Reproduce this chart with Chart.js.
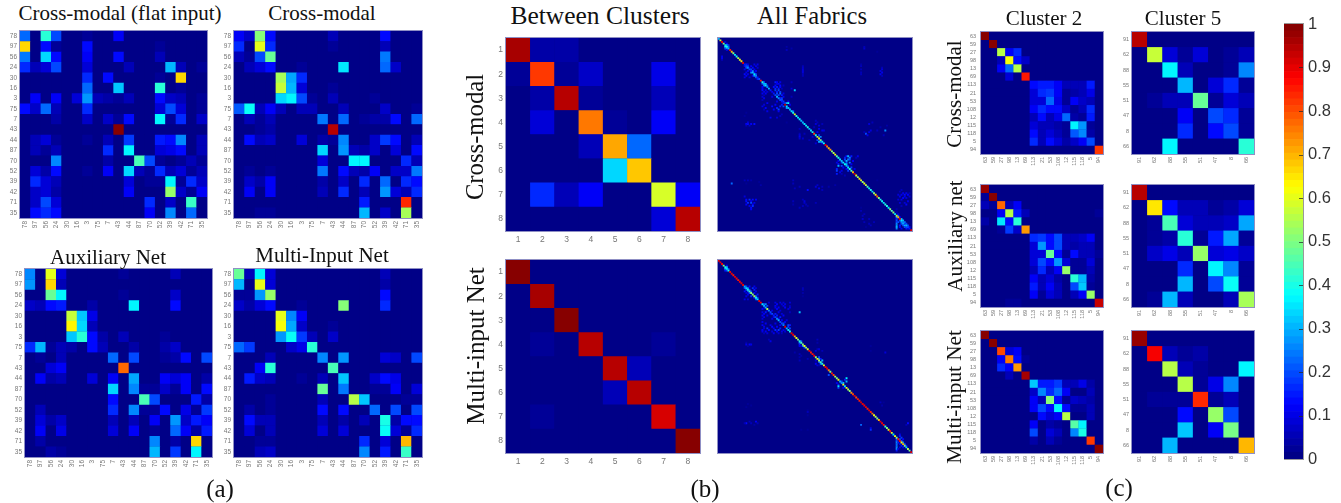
<!DOCTYPE html>
<html><head><meta charset="utf-8">
<script src="https://cdn.jsdelivr.net/npm/chart.js@4"></script>
<style>
html,body{margin:0;padding:0;background:#fff;width:1341px;height:503px;overflow:hidden}
canvas{position:absolute;filter:blur(0.45px)}
.t{position:absolute;font-family:"Liberation Serif",serif;color:#111;white-space:nowrap;line-height:1;transform:translate(-50%,-50%)}
.v{transform:translate(-50%,-50%) rotate(-90deg)}
</style></head><body>
<script>
// ---------- categories ----------
const fabricsA=['78','97','56','24','30','16','3','75','7','43','44','87','70','52','39','42','71','35'];
const clusterIds=['1','2','3','4','5','6','7','8'];
const cluster2Ids=['63','59','27','98','13','69','113','21','53','108','12','115','118','5','94'];
const cluster5Ids=['91','62','88','55','51','47','8','66'];
const allFabricIds=[];for(let i=1;i<=120;i++)allFabricIds.push(String(i));

// ---------- panel (a): rows as [column,value] pairs, all others 0 ----------
const flatInput=[
[[0,.22],[2,.42],[3,.2],[6,.03],[9,.12]],
[[0,.67],[2,.13],[3,.03],[6,.13],[13,.03]],
[[0,.24],[2,.33],[3,.14],[6,.11],[9,.14],[13,.05]],
[[0,.17],[1,.06],[2,.08],[3,.2],[6,.09],[10,.05],[14,.3],[15,.06],[17,.03]],
[[6,.16],[8,.14],[13,.02],[15,.66]],
[[6,.23],[9,.32],[13,.42],[15,.03]],
[[1,.12],[3,.12],[5,.09],[6,.27],[7,.05],[8,.04],[9,.02],[10,.06],[13,.13],[14,.07],[15,.05],[17,.03]],
[[0,.13],[1,.07],[2,.23],[3,.05],[6,.16],[13,.09],[14,.2],[15,.08],[17,.02]],
[[3,.04],[6,.07],[8,.07],[9,.03],[10,.13],[13,.36],[14,.03],[15,.17],[17,.07]],
[[9,.99]],
[[1,.05],[2,.08],[3,.03],[6,.03],[8,.05],[10,.18],[13,.15],[14,.13],[15,.25],[17,.06]],
[[1,.05],[2,.03],[3,.05],[8,.16],[10,.36],[13,.09],[14,.1],[15,.13],[17,.05]],
[[3,.25],[8,.04],[11,.45],[12,.2],[13,.03],[15,.03],[16,.05],[17,.03]],
[[1,.08],[2,.04],[3,.13],[6,.03],[8,.12],[10,.33],[11,.05],[12,.03],[13,.16],[14,.05],[15,.08],[16,.03],[17,.06]],
[[1,.17],[2,.09],[3,.05],[10,.09],[12,.02],[13,.02],[14,.36],[15,.03],[16,.17],[17,.07]],
[[1,.07],[2,.08],[3,.04],[10,.11],[14,.53],[15,.07],[16,.02],[17,.12]],
[[1,.07],[2,.2],[3,.08],[12,.17],[14,.07],[16,.43]],
[[1,.13],[2,.16],[3,.14],[12,.12],[14,.25],[16,.23]]];
const crossModalA=[
[[0,.12],[1,.07],[2,.5],[3,.13],[9,.05],[14,.13]],
[[0,.17],[2,.6],[3,.17],[9,.03],[14,.05]],
[[0,.05],[1,.03],[2,.2],[3,.48],[14,.24]],
[[1,.06],[2,.09],[3,.13],[6,.03],[10,.35],[14,.22],[15,.07]],
[[4,.54],[5,.29],[6,.17]],
[[4,.57],[5,.31],[6,.09],[9,.03]],
[[4,.33],[5,.37],[6,.2],[7,.03],[9,.05],[13,.03]],
[[0,.21],[1,.39],[2,.05],[3,.12],[4,.05],[6,.06],[7,.05],[10,.05],[14,.07],[17,.03]],
[[1,.05],[2,.02],[3,.06],[8,.24],[10,.22],[12,.03],[13,.04],[14,.04],[15,.13],[17,.23]],
[[2,.03],[3,.04],[9,.95]],
[[1,.13],[2,.05],[3,.07],[6,.09],[8,.04],[9,.02],[10,.25],[13,.07],[14,.18],[15,.13],[17,.05]],
[[8,.34],[10,.28],[11,.05],[12,.04],[13,.07],[15,.08],[17,.14]],
[[8,.08],[11,.36],[12,.36],[16,.17],[17,.06]],
[[1,.03],[3,.03],[8,.24],[10,.14],[11,.06],[12,.04],[13,.12],[15,.07],[16,.07],[17,.24]],
[[1,.07],[2,.04],[3,.11],[8,.04],[10,.07],[12,.17],[14,.22],[16,.17],[17,.13]],
[[1,.12],[3,.11],[8,.06],[10,.16],[12,.05],[14,.28],[15,.08],[16,.05],[17,.17]],
[[12,.15],[16,.84]],
[[2,.03],[3,.03],[12,.3],[14,.07],[16,.54]]];
const auxiliaryA=[
[[0,.25],[2,.6],[3,.09],[9,.03],[14,.06]],
[[0,.27],[2,.67],[3,.06]],
[[2,.48],[3,.37],[9,.03],[14,.07]],
[[0,.07],[1,.05],[2,.14],[3,.15],[6,.04],[10,.37],[14,.14]],
[[4,.57],[5,.32],[6,.1]],
[[4,.64],[5,.33],[6,.05]],
[[4,.32],[5,.42],[6,.13],[7,.04],[9,.05],[13,.02]],
[[0,.16],[1,.3],[2,.02],[3,.05],[4,.04],[6,.13],[7,.06],[10,.04],[13,.04],[14,.07]],
[[1,.03],[3,.05],[8,.22],[10,.2],[13,.03],[14,.04],[15,.14],[17,.2]],
[[2,.08],[3,.12],[9,.78]],
[[1,.12],[2,.04],[3,.06],[6,.08],[8,.11],[10,.29],[13,.11],[14,.08],[15,.12],[17,.04]],
[[8,.33],[10,.26],[11,.03],[12,.03],[13,.07],[14,.03],[15,.11],[17,.13]],
[[8,.14],[11,.44],[12,.2],[16,.15],[17,.04]],
[[1,.05],[8,.16],[10,.25],[11,.03],[12,.03],[13,.14],[15,.1],[16,.03],[17,.18]],
[[1,.08],[2,.04],[3,.07],[8,.06],[10,.05],[12,.11],[14,.27],[15,.07],[16,.15],[17,.12]],
[[1,.12],[3,.1],[8,.08],[10,.12],[12,.03],[14,.23],[15,.12],[16,.04],[17,.15]],
[[1,.04],[12,.26],[14,.04],[16,.66]],
[[2,.04],[3,.03],[12,.31],[14,.18],[16,.37]]];
const multiInputA=[
[[0,.48],[1,.05],[2,.36],[3,.08],[14,.06]],
[[0,.3],[2,.6],[3,.08],[14,.04]],
[[0,.03],[1,.02],[2,.27],[3,.53],[14,.13]],
[[0,.07],[1,.04],[2,.09],[3,.13],[6,.03],[10,.51],[14,.17]],
[[4,.6],[5,.25],[6,.12]],
[[4,.62],[5,.29],[6,.07],[9,.03]],
[[4,.28],[5,.38],[6,.18],[7,.06],[9,.07]],
[[0,.22],[1,.18],[5,.07],[6,.1],[7,.41]],
[[3,.05],[8,.26],[10,.28],[14,.08],[15,.07],[17,.19]],
[[2,.12],[3,.42],[9,.44]],
[[1,.15],[2,.07],[3,.05],[6,.03],[8,.06],[10,.32],[13,.07],[14,.13],[15,.1]],
[[8,.47],[10,.24],[13,.03],[14,.03],[15,.12],[17,.09]],
[[3,.02],[8,.06],[11,.55],[12,.32],[16,.03],[17,.03]],
[[1,.04],[3,.03],[8,.13],[10,.13],[13,.22],[15,.19],[17,.2]],
[[1,.13],[2,.05],[3,.06],[8,.05],[10,.04],[12,.06],[14,.4],[15,.04],[16,.14],[17,.13]],
[[1,.09],[3,.06],[8,.09],[10,.08],[14,.38],[15,.09],[16,.03],[17,.17]],
[[2,.03],[3,.03],[12,.16],[14,.08],[16,.7]],
[[2,.05],[3,.07],[12,.26],[14,.15],[16,.43]]];

// ---------- panel (b) between clusters ----------
const betweenCrossModal=[
[.96,.04,.04,.01,0,0,.01,0],
[.03,.82,.03,.07,.01,.01,.1,.01],
[.01,.04,.95,.02,.01,.01,.05,.01],
[.01,.09,.01,.75,.03,.01,.12,.01],
[0,.01,.01,.05,.71,.23,.01,.01],
[0,0,0,.01,.33,.68,.01,.01],
[.01,.16,.06,.12,.01,.01,.58,.12],
[0,0,0,0,.01,.01,.08,.95]];
const betweenMultiInput=[
[.99,0,0,0,0,0,0,0],
[0,.96,0,0,0,0,0,0],
[0,0,.99,0,0,0,0,0],
[0,.03,0,.95,0,0,.03,0],
[0,0,0,0,.95,.05,0,0],
[0,0,0,0,.06,.95,0,0],
[0,.03,0,0,0,0,.92,0],
[0,0,0,0,0,0,0,.99]];

// ---------- panel (b) all fabrics: diagonal + sparse [row,col,value] ----------
const allCrossDiagonal=[.3,.6,.9,.5,.35,.4,.3,.85,.7,.5,.35,.4,.55,.6,.65,.9,.15,.2,.25,.2,.15,.3,.35,.25,.15,.2,.85,.4,.3,.35,.25,.3,.15,.12,.15,.2,.3,.25,.2,.15,.15,.95,.35,.3,.3,.35,.4,.6,.4,.35,.36,.3,.3,.35,.36,.4,.3,.35,.4,.8,.4,.55,.62,.5,.35,.4,.9,.75,.7,.72,.5,.55,.62,.45,.4,.35,.3,.35,.38,.3,.35,.4,.45,.7,.92,.6,.5,.65,.6,.5,.62,.55,.45,.38,.4,.35,.5,.65,.78,.5,.4,.38,.35,.42,.4,.35,.5,.45,.5,.35,.55,.7,.9,.35,.25,.2,.3,.2,.15,.9];
const allCrossOff=[[3,5,.12],[4,5,.3],[4,6,.18],[5,4,.38],[5,6,.22],[6,4,.2],[6,5,.25],[7,5,.1],[2,4,.08],[11,2,.1],[12,2,.12],[13,2,.06],
[16,17,.15],[16,18,.1],[16,22,.1],[16,24,.1],[17,16,.12],[17,18,.18],[17,20,.12],[17,23,.1],[18,17,.2],[18,19,.1],[18,21,.14],[18,24,.08],[19,16,.12],[19,20,.18],[19,22,.12],[20,18,.1],[20,21,.22],[20,23,.12],[21,17,.1],[21,20,.25],[21,22,.14],[22,16,.14],[22,18,.1],[22,23,.18],[23,17,.12],[23,21,.12],[23,22,.25],[24,16,.1],[24,19,.08],[24,23,.2],[25,24,.15],
[17,52,.05],[18,52,.07],[19,52,.08],[20,52,.08],[21,52,.09],[22,52,.05],[23,52,.05],[5,42,.04],[7,42,.05],[6,45,.04],[5,90,.05],[6,90,.07],[8,98,.03],
[16,88,.04],[17,88,.05],[19,88,.05],[21,88,.06],[22,88,.05],[18,101,.06],[19,101,.08],[20,100,.08],[21,101,.1],[22,100,.1],[23,101,.06],
[27,28,.2],[27,35,.15],[27,36,.12],[27,38,.1],[27,45,.06],[28,27,.2],[28,29,.3],[28,36,.1],[28,37,.12],[29,28,.25],[29,30,.2],[29,35,.14],[29,38,.14],[29,40,.05],[30,27,.12],[30,34,.13],[30,36,.15],[30,38,.12],[31,27,.12],[31,35,.16],[31,37,.15],[31,39,.06],[31,45,.08],[32,27,.14],[32,29,.1],[32,35,.18],[32,37,.2],[32,47,.32],[33,28,.1],[33,30,.08],[33,36,.15],[33,38,.18],[34,27,.12],[34,29,.12],[34,36,.2],[34,38,.22],[34,40,.1],[35,28,.06],[35,37,.2],[35,39,.15],[36,27,.08],[36,33,.1],[36,40,.12],[36,45,.06],[37,28,.1],[37,38,.15],[37,39,.18],[38,27,.06],[38,39,.2],[39,36,.1],[39,40,.18],[39,43,.12],[40,30,.12],[40,42,.3],[40,43,.38],[40,41,.2],[41,28,.08],[41,35,.12],[41,39,.15],[41,44,.1],[42,27,.1],[42,33,.14],[42,38,.16],[42,40,.2],[43,29,.12],[43,36,.15],[43,42,.25],[44,28,.06],[44,34,.12],[44,37,.2],[45,30,.1],[45,37,.12],[45,46,.2],
[49,32,.12],[49,36,.08],[48,38,.05],[47,39,.05],[48,16,.03],[46,17,.03],[53,17,.12],[53,18,.14],[53,20,.12],[53,22,.13],[52,18,.08],[54,17,.06],[54,19,.07],[52,42,.03],
[51,60,.05],[52,61,.06],[53,60,.08],[53,64,.06],[54,62,.08],[55,59,.06],[56,50,.06],[56,62,.1],[57,64,.1],[57,65,.08],[58,61,.12],[59,50,.06],[59,53,.05],[60,50,.08],[60,62,.18],[61,50,.1],[61,58,.08],[61,63,.25],[62,50,.07],[62,52,.07],[63,61,.2],[63,56,.05],[64,62,.3],[64,63,.25],[65,60,.08],[65,64,.12],
[52,95,.05],[53,93,.08],[57,103,.25],[57,94,.08],[58,93,.1],[59,91,.2],[60,92,.1],[55,100,.04],[54,104,.04],[60,102,.05],[57,98,.05],[58,90,.05],
[73,79,.15],[73,80,.3],[73,82,.15],[73,86,.1],[74,78,.15],[74,81,.25],[74,85,.06],[75,78,.2],[75,80,.25],[75,81,.2],[76,74,.1],[76,79,.3],[76,83,.12],[77,73,.1],[77,76,.2],[77,79,.2],[77,81,.25],[78,74,.15],[78,79,.3],[78,82,.12],[79,74,.3],[79,76,.2],[79,80,.15],[80,77,.12],[80,82,.2],[81,73,.15],[81,79,.12],[81,84,.1],[82,73,.18],[82,76,.1],[82,80,.18],[83,75,.1],[84,73,.15],[84,76,.06],[85,78,.05],
[90,8,.22],[88,16,.05],[88,18,.06],[88,20,.04],[90,17,.03],[89,25,.03],[91,26,.04],[88,46,.05],[90,46,.05],[93,47,.05],[92,50,.06],[94,55,.14],[92,60,.08],[91,61,.07],[93,62,.1],[92,64,.06],[94,64,.05],[91,72,.04],[92,68,.04],[88,98,.03],
[98,16,.08],[100,17,.14],[100,19,.16],[100,21,.14],[100,23,.12],[101,17,.14],[101,20,.12],[102,18,.16],[102,20,.2],[102,22,.1],[103,17,.12],[103,21,.12],[104,19,.1],[104,21,.16],[105,20,.14],[106,20,.12],[100,52,.05],[101,53,.08],[102,53,.07],[103,54,.06],[104,52,.05],[105,50,.05],[102,60,.05],[104,55,.04],[103,46,.04],[101,46,.05],
[94,113,.05],[95,112,.05],[96,114,.1],[96,116,.1],[96,118,.06],[97,111,.08],[97,113,.1],[97,115,.14],[97,117,.12],[98,112,.1],[98,115,.1],[98,118,.08],[99,114,.12],[99,116,.08],[100,111,.08],[100,113,.1],[101,117,.1],[102,115,.08],[102,112,.08],[103,116,.12],[104,113,.05],
[105,88,.03],[107,88,.05],[109,90,.05],[110,89,.06],[112,89,.07],[114,90,.05],[116,94,.05],[117,91,.03],[112,93,.05],[114,96,.06],[115,93,.05],
[110,111,.2],[111,110,.25],[111,112,.1],[112,110,.15],[112,113,.3],[113,110,.2],[113,112,.2],[113,114,.3],[114,110,.18],[114,111,.2],[114,113,.25],[114,115,.25],[115,110,.25],[115,113,.2],[115,114,.3],[115,116,.2],[116,110,.28],[116,112,.15],[116,114,.2],[116,115,.3],[116,117,.2],[117,110,.3],[117,112,.12],[117,115,.2],[117,116,.2],[117,118,.1],[118,110,.25],[118,113,.12],[118,116,.15],[118,117,.1],[108,110,.06],[109,111,.08],[106,110,.04]];
const allMultiDiagonal=[.9,.9,.88,.5,.4,.35,.4,.9,.9,.85,.9,.88,.85,.88,.9,.9,.3,.35,.4,.45,.5,.5,.55,.4,.35,.9,.88,.35,.3,.3,.55,.25,.2,.2,.15,.2,.25,.3,.2,.2,.25,.92,.3,.35,.4,.9,.88,.7,.6,.5,.4,.45,.5,.62,.5,.6,.88,.85,.85,.88,.5,.62,.55,.45,.4,.6,.88,.9,.75,.5,.85,.8,.55,.5,.62,.3,.25,.6,.35,.62,.55,.5,.72,.8,.9,.8,.85,.85,.92,.9,.88,.9,.85,.9,.85,.75,.62,.55,.5,.7,.9,.88,.85,.45,.5,.6,.85,.6,.35,.62,.5,.85,.88,.62,.7,.5,.35,.55,.5,.9];
const allMultiOff=[[3,5,.12],[4,5,.3],[5,4,.3],[5,6,.18],[6,5,.2],[6,4,.15],
[16,17,.2],[16,19,.14],[16,22,.1],[17,16,.2],[17,18,.25],[17,21,.16],[17,23,.08],[18,17,.2],[18,19,.2],[18,22,.15],[19,16,.14],[19,18,.18],[19,20,.2],[19,23,.1],[20,17,.08],[20,19,.2],[20,22,.12],[21,18,.12],[21,24,.15],[22,17,.1],[22,20,.16],[22,23,.2],[23,22,.15],[23,24,.2],[24,16,.1],[24,18,.08],[24,23,.2],
[17,52,.05],[18,52,.05],[20,52,.04],[22,52,.03],
[26,31,.08],[26,35,.1],[26,38,.1],[26,40,.08],[26,44,.08],[27,28,.2],[27,29,.25],[27,36,.12],[27,39,.08],[27,41,.1],[28,30,.2],[28,35,.12],[28,40,.1],[28,44,.06],[29,28,.1],[29,35,.1],[29,37,.12],[29,41,.12],[29,44,.08],[30,27,.12],[30,36,.12],[30,43,.08],[31,30,.08],[31,33,.1],[31,38,.08],[32,27,.1],[32,29,.15],[32,37,.1],[32,50,.32],[32,44,.05],[33,28,.12],[33,32,.12],[33,35,.15],[33,39,.08],[34,27,.12],[34,30,.1],[34,36,.15],[34,40,.12],[35,28,.1],[35,34,.1],[35,38,.15],[36,27,.08],[36,33,.1],[36,37,.14],[37,39,.12],[37,42,.08],[38,27,.1],[38,41,.12],[39,29,.12],[39,35,.1],[39,40,.2],[40,27,.12],[40,32,.1],[40,38,.12],[40,43,.2],[40,44,.15],[41,28,.1],[41,33,.14],[41,36,.12],[41,43,.18],[42,28,.08],[42,30,.16],[42,34,.12],[42,38,.15],[42,44,.2],[43,27,.12],[43,31,.14],[43,35,.16],[43,37,.18],[43,40,.1],[44,27,.1],[44,29,.12],[44,33,.08],[44,36,.12],[44,39,.1],[44,41,.08],[45,28,.06],[45,30,.08],[45,34,.1],[45,37,.08],[45,39,.05],
[50,32,.1],[49,31,.05],[51,17,.04],[52,17,.1],[52,19,.12],[52,20,.1],[53,18,.04],
[51,61,.04],[49,61,.05],[50,51,.2],[51,50,.25],[52,50,.15],[53,50,.1],[53,52,.25],[53,51,.08],[54,53,.2],[55,61,.05],[55,62,.08],[56,60,.08],[56,64,.05],[57,47,.04],[58,50,.05],[59,51,.04],[60,62,.2],[61,62,.25],[61,63,.15],[62,60,.08],[62,64,.3],[63,62,.2],[64,60,.12],[64,63,.25],[65,61,.08],[65,62,.06],[60,50,.04],[61,55,.05],[62,50,.05],[53,94,.03],[57,103,.08],[56,94,.03],
[71,68,.2],[73,79,.36],[74,78,.15],[75,76,.2],[75,79,.3],[76,73,.1],[76,77,.3],[77,74,.15],[78,74,.35],[79,77,.12],[79,74,.2],
[91,17,.03],[89,18,.03],[90,20,.03],[88,102,.03],[88,100,.05],[90,101,.04],[93,55,.03],[94,55,.05],[96,55,.03],
[100,23,.12],[101,17,.14],[101,16,.05],[100,19,.05],[101,20,.05],[101,24,.05],[102,22,.04],[105,55,.03],[105,51,.03],
[102,88,.22],[104,94,.08],[105,94,.16],[101,117,.14],[102,116,.05],
[108,112,.1],[109,112,.15],[110,113,.18],[111,110,.2],[111,112,.2],[111,114,.14],[112,110,.2],[112,113,.2],[113,110,.25],[113,111,.15],[113,114,.25],[114,110,.22],[114,112,.12],[114,115,.2],[115,110,.22],[115,113,.15],[115,116,.15],[116,110,.25],[116,112,.1],[116,114,.1],[117,110,.25],[117,111,.08],[118,110,.15]];

// ---------- panel (c) cluster 2 ----------
const cluster2Cross=[
[[0,.99]],[[1,.99]],
[[2,.55],[3,.12],[4,.17]],
[[2,.05],[3,.62],[4,.13],[5,.07]],
[[2,.12],[3,.22],[4,.55]],
[[3,.08],[5,.85]],
[[6,.13],[7,.15],[8,.15],[9,.12],[10,.06],[11,.06],[12,.06],[13,.15]],
[[6,.09],[7,.17],[8,.18],[9,.12],[10,.03],[11,.04],[12,.05],[13,.1]],
[[6,.08],[7,.09],[8,.22],[9,.1],[10,.03],[11,.12],[12,.07],[13,.06]],
[[6,.11],[7,.17],[8,.13],[9,.13],[10,.07],[11,.03],[12,.05],[13,.16]],
[[6,.06],[7,.13],[8,.06],[9,.1],[10,.22],[11,.04],[12,.03],[13,.15]],
[[6,.09],[7,.05],[8,.05],[9,.04],[10,.03],[11,.36],[12,.27],[13,.03]],
[[6,.13],[7,.05],[8,.08],[9,.05],[10,.03],[11,.21],[12,.26],[13,.04]],
[[6,.17],[7,.06],[8,.13],[9,.09],[10,.04],[11,.07],[12,.12],[13,.19]],
[[14,.82]]];
const cluster2Aux=[
[[0,.98]],[[0,.03],[1,.99]],
[[0,.06],[1,.03],[2,.78],[3,.05],[4,.11]],
[[2,.12],[3,.55],[4,.15],[5,.05],[14,.02]],
[[0,.04],[2,.35],[3,.14],[4,.42]],
[[2,.03],[3,.18],[4,.07],[5,.72]],
[[6,.16],[7,.18],[8,.14],[9,.2],[10,.06],[11,.05],[12,.07],[13,.11]],
[[6,.09],[7,.27],[8,.13],[9,.2],[10,.05],[11,.04],[12,.05],[13,.06]],
[[6,.08],[7,.08],[8,.48],[9,.13],[10,.03],[11,.14],[12,.05],[13,.05],[14,.03]],
[[6,.09],[7,.2],[8,.13],[9,.28],[10,.09],[11,.03],[12,.03],[13,.08]],
[[6,.05],[7,.16],[8,.05],[9,.12],[10,.52],[11,.03],[12,.03],[13,.06]],
[[6,.12],[7,.05],[8,.08],[9,.04],[11,.42],[12,.3],[13,.04]],
[[6,.15],[7,.05],[8,.12],[9,.06],[11,.2],[12,.32],[13,.03]],
[[6,.12],[7,.03],[8,.08],[9,.05],[11,.06],[12,.12],[13,.53]],
[[3,.02],[4,.02],[14,.93]]];
const cluster2Multi=[
[[0,.99]],[[1,.99]],
[[2,.8],[3,.08],[4,.12]],
[[2,.12],[3,.75],[4,.13],[5,.03]],
[[2,.17],[3,.11],[4,.72]],
[[3,.05],[5,.96]],
[[6,.32],[7,.15],[8,.15],[9,.18],[10,.06],[11,.06],[12,.1],[13,.04]],
[[6,.07],[7,.26],[8,.17],[9,.22],[10,.12],[13,.06]],
[[6,.11],[7,.06],[8,.5],[9,.14],[10,.03],[11,.07],[12,.06],[13,.04]],
[[6,.12],[7,.2],[8,.13],[9,.36],[10,.14],[11,.03],[12,.03],[13,.05]],
[[7,.14],[8,.08],[9,.12],[10,.55],[13,.05]],
[[6,.12],[8,.04],[9,.03],[11,.46],[12,.36]],
[[6,.19],[8,.08],[9,.05],[11,.25],[12,.4]],
[[6,.04],[8,.05],[9,.03],[13,.82]],
[[14,.99]]];

// ---------- panel (c) cluster 5 ----------
const cluster5Cross=[
[.95,0,0,0,0,0,0,0],
[0,.57,.08,.02,.08,0,.02,.06],
[0,0,.36,.06,.01,.01,.03,.26],
[0,.01,.01,.31,.01,.09,.17,.02],
[0,.03,.06,.05,.48,.02,.08,.06],
[0,0,0,.12,0,.19,.16,.02],
[0,0,0,.17,0,.13,.2,.02],
[0,0,.37,0,0,0,0,.41]];
const cluster5Aux=[
[.95,0,0,0,0,0,0,0],
[0,.65,.13,.05,.06,.02,.04,.09],
[0,.03,.45,.08,.05,.05,.07,.29],
[0,.02,.04,.42,.02,.15,.29,.02],
[0,.07,.1,.06,.53,.08,.1,.07],
[0,0,0,.17,.01,.37,.25,.02],
[0,0,0,.31,.01,.2,.39,.02],
[0,.03,.31,.06,.01,.01,.05,.54]];
const cluster5Multi=[
[.98,0,0,0,0,0,0,0],
[0,.89,.06,.02,.04,0,0,0],
[0,0,.55,.05,.02,.01,.01,.36],
[0,.01,.01,.56,.02,.1,.26,.01],
[0,.02,.03,.03,.84,.02,.06,.01],
[0,0,0,.13,0,.52,.19,.01],
[0,0,0,.32,0,.12,.49,.01],
[0,0,.31,0,0,0,0,.69]];

// ---------- colour bar ----------
const colorbarTicks=[0,.1,.2,.3,.4,.5,.6,.7,.8,.9,1];
const LEVELS=64;

function jet(v){
  const i=Math.min(LEVELS-1,Math.floor(Math.max(0,Math.min(1,v))*LEVELS));
  const t=(i+.5)/LEVELS;
  const c=x=>Math.round(255*Math.max(0,Math.min(1,1.5-Math.abs(4*t-x))));
  return `rgb(${c(3)},${c(2)},${c(1)})`;
}
const NAVY=jet(0);
const GL=22,GB=22,PAD=2;

const frame={id:'frame',
  beforeDatasetsDraw(ch){const a=ch.chartArea,x=ch.ctx;x.save();x.fillStyle=NAVY;x.fillRect(a.left,a.top,a.width,a.height);x.restore();},
  afterDatasetsDraw(ch){const a=ch.chartArea,x=ch.ctx;x.save();x.strokeStyle='#8f8fc4';x.lineWidth=1;x.strokeRect(a.left-.5,a.top-.5,a.width+1,a.height+1);x.restore();}
};

function panel(px,py,w,h,labels,points,opts){
  opts=opts||{};
  const ticks=opts.ticks!==false;
  const c=document.createElement('canvas');
  const cw=w+GL+PAD,ch=h+GB+PAD;
  c.width=cw;c.height=ch;c.style.left=(px-GL)+'px';c.style.top=(py-PAD)+'px';
  c.style.width=cw+'px';c.style.height=ch+'px';
  document.body.appendChild(c);
  const n=labels.length;
  const side=Math.max(w,h)/n;
  const fs=opts.font||6.5;
  const font={family:'"Liberation Sans",sans-serif',size:fs};
  new Chart(c,{type:'scatter',
    data:{datasets:[{
      data:points.map(p=>({x:labels[p[1]],y:labels[p[0]],v:p[2]})),
      backgroundColor:points.map(p=>jet(p[2])),
      pointStyle:'rect',pointRadius:(side+.3)*Math.SQRT1_2,pointBorderWidth:0,pointHoverRadius:(side+.3)*Math.SQRT1_2,showLine:false
    }]},
    plugins:[frame],
    options:{responsive:false,animation:false,events:[],
      layout:{autoPadding:false,padding:{left:0,bottom:0,top:PAD,right:PAD}},
      plugins:{legend:{display:false},tooltip:{enabled:false},title:{display:false}},
      scales:{
        x:{type:'category',labels:labels,offset:true,display:ticks,grid:{display:false,drawTicks:false},border:{display:false},
           afterFit:s=>{s.height=GB;s.paddingLeft=0;s.paddingRight=0},
           ticks:{autoSkip:false,color:'#777',font,padding:opts.xpad||3,minRotation:opts.flat?0:90,maxRotation:opts.flat?0:90}},
        y:{type:'category',labels:labels,offset:true,display:ticks,grid:{display:false,drawTicks:false},border:{display:false},
           afterFit:s=>{s.width=GL;s.paddingTop=0;s.paddingBottom=0},
           ticks:{autoSkip:false,color:'#777',font,padding:opts.ypad||3}}
      }}
  });
}
function fromPairs(rows){const o=[];rows.forEach((r,i)=>{const m={};r.forEach(p=>m[p[0]]=p[1]);
  rows.forEach((_,j)=>o.push([i,j,m[j]||0]));});return o;}
function fromDense(rows){const o=[];rows.forEach((r,i)=>r.forEach((v,j)=>o.push([i,j,v])));return o;}
function fromSparse(off,diag){return off.concat(diag.map((v,i)=>[i,i,v]));}

panel(20,31,187,187,fabricsA,fromPairs(flatInput));
panel(234,31,188,187,fabricsA,fromPairs(crossModalA));
panel(25,269,187,188,fabricsA,fromPairs(auxiliaryA));
panel(234,269,188,188,fabricsA,fromPairs(multiInputA));

panel(506,38,194,193,clusterIds,fromDense(betweenCrossModal),{flat:true,font:8.5,xpad:4,ypad:3});
panel(506,260,194,193,clusterIds,fromDense(betweenMultiInput),{flat:true,font:8.5,xpad:4,ypad:3});
panel(718,38,194,193,allFabricIds,fromSparse(allCrossOff,allCrossDiagonal),{ticks:false});
panel(718,260,194,193,allFabricIds,fromSparse(allMultiOff,allMultiDiagonal),{ticks:false});

panel(981,32,122,122,cluster2Ids,fromPairs(cluster2Cross),{font:5.5,ypad:5});
panel(981,185,122,122,cluster2Ids,fromPairs(cluster2Aux),{font:5.5,ypad:5});
panel(981,331,122,122,cluster2Ids,fromPairs(cluster2Multi),{font:5.5,ypad:5});
panel(1132,32,122,122,cluster5Ids,fromDense(cluster5Cross),{font:5.5});
panel(1132,185,122,122,cluster5Ids,fromDense(cluster5Aux),{font:5.5});
panel(1132,331,122,122,cluster5Ids,fromDense(cluster5Multi),{font:5.5});

// colour bar
(function(){
  const c=document.createElement('canvas');
  c.width=57;c.height=475;c.style.left='1284px';c.style.top='4px';c.style.width='57px';c.style.height='475px';
  document.body.appendChild(c);
  const ds=[];
  for(let i=0;i<LEVELS;i++)ds.push({data:[[i/LEVELS,(i+1)/LEVELS]],backgroundColor:jet((i+.5)/LEVELS),borderWidth:0,barPercentage:1,categoryPercentage:1,borderSkipped:false});
  new Chart(c,{type:'bar',data:{labels:['level'],datasets:ds},
    plugins:[{id:'inTicks',afterDatasetsDraw(ch){const y=ch.scales.y,a=ch.chartArea,x=ch.ctx;x.save();x.strokeStyle='rgba(40,40,40,.75)';x.lineWidth=1;
      colorbarTicks.slice(1,-1).forEach(t=>{const p=Math.round(y.getPixelForValue(t))+.5;x.beginPath();x.moveTo(a.right-4,p);x.lineTo(a.right,p);x.stroke();});
      x.strokeStyle='#999';x.strokeRect(a.left-.5,a.top-.5,a.width+1,a.height+1);x.restore();}}],
    options:{responsive:false,animation:false,events:[],
      layout:{padding:{top:20,bottom:20,left:0,right:0}},
      plugins:{legend:{display:false},tooltip:{enabled:false}},
      scales:{x:{display:false,stacked:true},
        y:{position:'right',min:0,max:1,grid:{display:false,drawTicks:false},border:{display:false},
           afterBuildTicks:s=>{s.ticks=colorbarTicks.map(v=>({value:v}))},
           afterFit:s=>{s.width=38;s.paddingTop=0;s.paddingBottom=0},
           ticks:{autoSkip:false,color:'#333',padding:5,font:{family:'"Liberation Sans",sans-serif',size:16.5},callback:v=>String(v)}}}
    }});
})();

// titles and captions as real text
[['Cross-modal (flat input)',120,13,21],['Cross-modal',322,13,21],['Auxiliary Net',108,257,21],['Multi-Input Net',322,255,21],
 ['Between Clusters',600,16,25.5],['All Fabrics',812,16,24.6],['Cluster 2',1044,18,21],['Cluster 5',1183,18,21],
 ['(a)',220,488,25],['(b)',705,488,25],['(c)',1119,487,25]].forEach(d=>txt(d,false));
[['Cross-modal',475,137,24.7],['Multi-input Net',475,346,25],['Cross-modal',954,94,21],['Auxiliary net',955,236,21],['Multi-input Net',955,397,21.2]].forEach(d=>txt(d,true));
function txt(d,v){const e=document.createElement('div');e.className='t'+(v?' v':'');e.textContent=d[0];
  e.style.left=d[1]+'px';e.style.top=d[2]+'px';e.style.fontSize=d[3]+'px';document.body.appendChild(e);}
</script>
</body></html>
